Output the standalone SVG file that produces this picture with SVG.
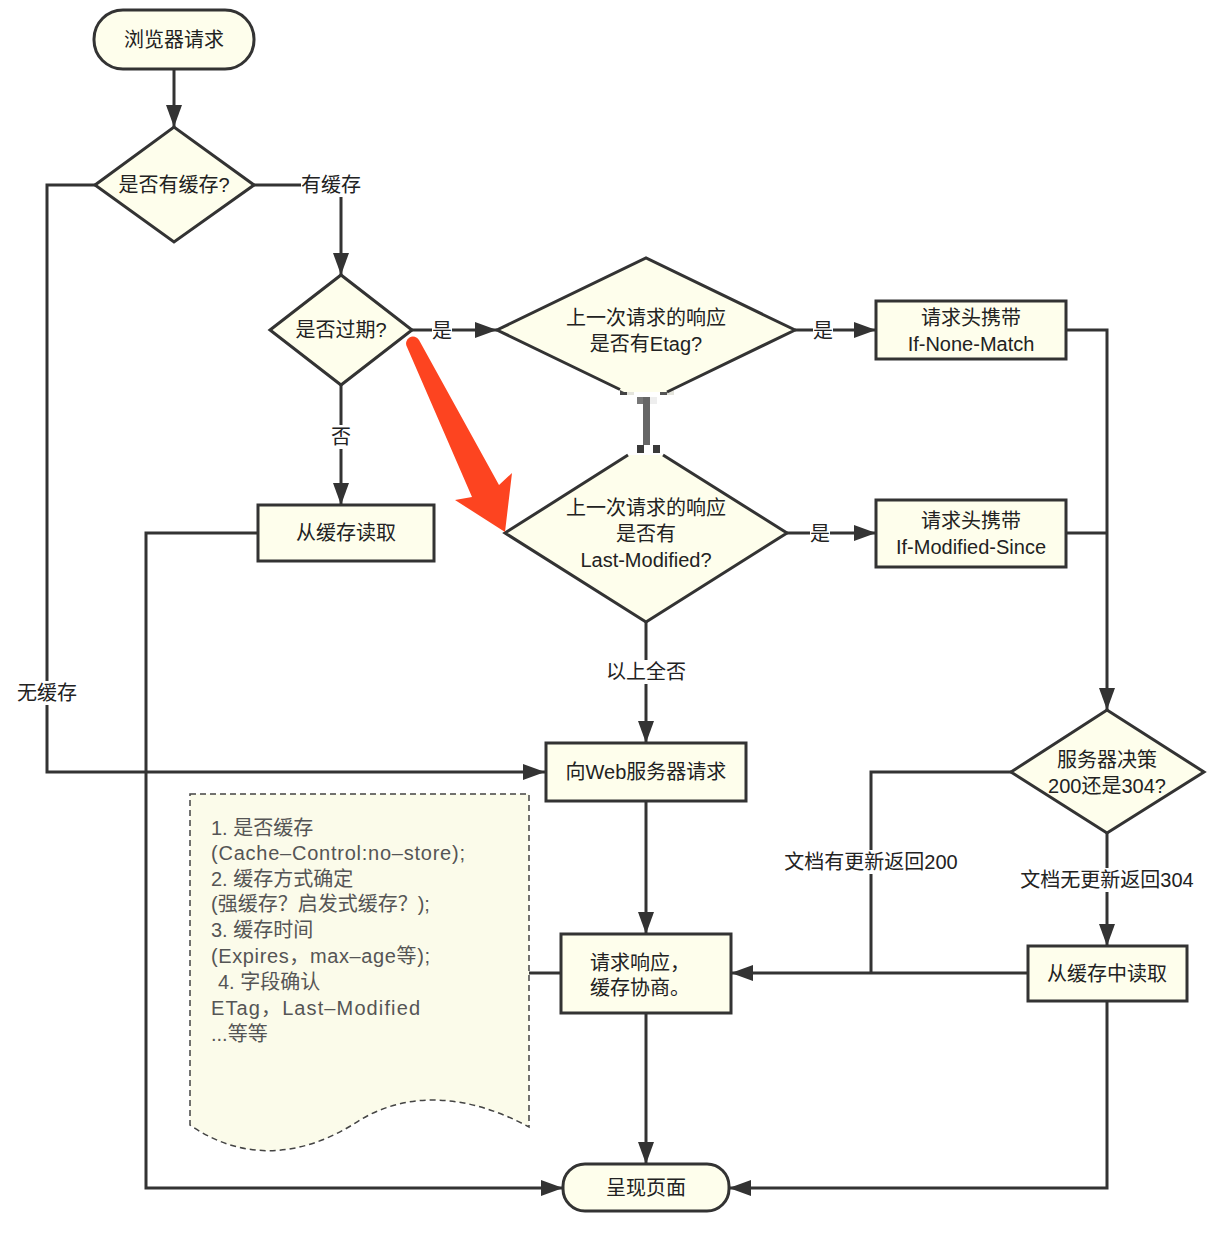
<svg xmlns="http://www.w3.org/2000/svg" width="1230" height="1244" viewBox="0 0 1230 1244">
  <style>
    .node { fill: #fefeec; stroke: #333; stroke-width: 3; }
    .edge { fill: none; stroke: #333; stroke-width: 3; }
    .txt { font-family: "Liberation Sans", "Noto Sans CJK SC", sans-serif; font-size: 20px; fill: #222; text-anchor: middle; }
    .lbl { font-family: "Liberation Sans", "Noto Sans CJK SC", sans-serif; font-size: 20px; fill: #222; text-anchor: middle; }
    .lblbg { fill: #fff; }
    .note { font-family: "Liberation Sans", "Noto Sans CJK SC", sans-serif; font-size: 20px; fill: #555; }
  </style>
  <defs>
    <marker id="arrow" markerUnits="userSpaceOnUse" markerWidth="22" markerHeight="16" viewBox="0 0 22 16" refX="22" refY="8" orient="auto">
      <path d="M0,0 L22,8 L0,16 z" fill="#333"/>
    </marker>
  </defs>
  <rect width="1230" height="1244" fill="#fff"/>

  <!-- connectors -->
  <g id="connectors">
    <path class="edge" d="M174,69 V127" marker-end="url(#arrow)"/>
    <path class="edge" d="M254,185 H341 V275" marker-end="url(#arrow)"/>
    <path class="edge" d="M95,185 H47 V772 H545" marker-end="url(#arrow)"/>
    <path class="edge" d="M412,330 H497" marker-end="url(#arrow)"/>
    <path class="edge" d="M341,385 V505" marker-end="url(#arrow)"/>
    <path class="edge" d="M258,533 H146 V1188 H563" marker-end="url(#arrow)"/>
    <path class="edge" d="M795,330 H876" marker-end="url(#arrow)"/>
    <path class="edge" d="M1066,330 H1107 V710" marker-end="url(#arrow)"/>
    <path class="edge" d="M787,533 H876" marker-end="url(#arrow)"/>
    <path class="edge" d="M1066,533 H1107"/>
    <path class="edge" d="M646,622 V743" marker-end="url(#arrow)"/>
    <path class="edge" d="M646,801 V934" marker-end="url(#arrow)"/>
    <path class="edge" d="M646,1013 V1164" marker-end="url(#arrow)"/>
    <path class="edge" d="M1011,772 H871 V973"/>
    <path class="edge" d="M1107,833 V946" marker-end="url(#arrow)"/>
    <path class="edge" d="M1028,973 H731" marker-end="url(#arrow)"/>
    <path class="edge" d="M1107,1001 V1188 H729" marker-end="url(#arrow)"/>
    <path class="edge" d="M561,973 H529"/>

    <!-- link between the two header checks -->
    <g id="etag-link">
      <rect x="620" y="389" width="7" height="6" fill="#444"/>
      <rect x="627" y="389" width="7" height="6" fill="#e4e4dc"/>
      <rect x="660" y="389" width="7" height="6" fill="#555"/>
      <rect x="667" y="389" width="7" height="6" fill="#e4e4dc"/>
      <rect x="637" y="397" width="7" height="7" fill="#777"/>
      <rect x="650" y="397" width="7" height="7" fill="#eee"/>
      <rect x="643" y="397" width="7" height="48" fill="#666"/>
      <rect x="637" y="445" width="7" height="8" fill="#3a3a3a"/>
      <rect x="653" y="445" width="7" height="8" fill="#3a3a3a"/>
    </g>

    <!-- connector labels -->
    <rect class="lblbg" x="301" y="173" width="60" height="24"/>
    <text class="lbl" x="331" y="192">有缓存</text>
    <rect class="lblbg" x="17" y="681" width="60" height="24"/>
    <text class="lbl" x="47" y="700">无缓存</text>
    <rect class="lblbg" x="432" y="319" width="20" height="24"/>
    <text class="lbl" x="442" y="338">是</text>
    <rect class="lblbg" x="331" y="425" width="20" height="24"/>
    <text class="lbl" x="341" y="444">否</text>
    <rect class="lblbg" x="813" y="319" width="20" height="24"/>
    <text class="lbl" x="823" y="338">是</text>
    <rect class="lblbg" x="810" y="522" width="20" height="24"/>
    <text class="lbl" x="820" y="541">是</text>
    <rect class="lblbg" x="606" y="660" width="80" height="24"/>
    <text class="lbl" x="646" y="679">以上全否</text>
    <rect class="lblbg" x="782" y="850" width="178" height="24"/>
    <text class="lbl" x="871" y="869">文档有更新返回200</text>
    <rect class="lblbg" x="1018" y="868" width="178" height="24"/>
    <text class="lbl" x="1107" y="887">文档无更新返回304</text>
  </g>

  <!-- nodes -->
  <g id="start">
    <rect class="node" x="94" y="10" width="160" height="59" rx="29"/>
    <text class="txt" x="174" y="47">浏览器请求</text>
  </g>

  <g id="has-cache">
    <polygon class="node" points="95,185 174,127 254,185 174,242"/>
    <text class="txt" x="174" y="192">是否有缓存?</text>
  </g>

  <g id="expired">
    <polygon class="node" points="270,330 341,275 412,330 341,385"/>
    <text class="txt" x="341" y="337">是否过期?</text>
  </g>

  <g id="read-cache">
    <rect class="node" x="258" y="505" width="176" height="56"/>
    <text class="txt" x="346" y="540">从缓存读取</text>
  </g>

  <g id="has-etag">
    <polygon points="497,330 646,258 795,330 668,392 624,392" fill="#fefeec"/>
    <path class="edge" d="M620,389.5 L497,330 L646,258 L795,330 L667,392"/>
    <text class="txt" x="646" y="325">上一次请求的响应</text>
    <text class="txt" x="646" y="351">是否有Etag?</text>
  </g>

  <g id="has-last-modified">
    <polygon points="628,455 663,455 787,533 646,622 505,533" fill="#fefeec"/>
    <path class="edge" d="M628,455 L505,533 L646,622 L787,533 L663,455"/>
    <text class="txt" x="646" y="515">上一次请求的响应</text>
    <text class="txt" x="646" y="541">是否有</text>
    <text class="txt" x="646" y="567">Last-Modified?</text>
  </g>

  <g id="if-none-match">
    <rect class="node" x="876" y="301" width="190" height="58"/>
    <text class="txt" x="971" y="325">请求头携带</text>
    <text class="txt" x="971" y="351">If-None-Match</text>
  </g>

  <g id="if-modified-since">
    <rect class="node" x="876" y="500" width="190" height="67"/>
    <text class="txt" x="971" y="528">请求头携带</text>
    <text class="txt" x="971" y="554">If-Modified-Since</text>
  </g>

  <g id="server-request">
    <rect class="node" x="546" y="743" width="200" height="58"/>
    <text class="txt" x="646" y="779">向Web服务器请求</text>
  </g>

  <g id="server-decision">
    <polygon class="node" points="1011,772 1107,710 1204,772 1107,833"/>
    <text class="txt" x="1107" y="767">服务器决策</text>
    <text class="txt" x="1107" y="793">200还是304?</text>
  </g>

  <g id="response">
    <rect class="node" x="561" y="934" width="170" height="79"/>
    <text class="txt" x="640" y="970">请求响应，</text>
    <text class="txt" x="640" y="995">缓存协商。</text>
  </g>

  <g id="read-cache-304">
    <rect class="node" x="1028" y="946" width="159" height="55"/>
    <text class="txt" x="1107" y="981">从缓存中读取</text>
  </g>

  <g id="render">
    <rect class="node" x="563" y="1164" width="166" height="47" rx="22"/>
    <text class="txt" x="646" y="1195">呈现页面</text>
  </g>

  <!-- annotation note -->
  <g id="note">
    <path d="M190,794 H529 V1127 C470,1095 410,1090 360,1120 C300,1160 240,1160 190,1125 Z" fill="#fbfbea" stroke="#444" stroke-width="1.5" stroke-dasharray="6,4"/>
    <text class="note" x="211" y="835">1. 是否缓存</text>
    <text class="note" x="211" y="860" textLength="254" lengthAdjust="spacing">(Cache–Control:no–store);</text>
    <text class="note" x="211" y="886">2. 缓存方式确定</text>
    <text class="note" x="211" y="911">(强缓存？启发式缓存？);</text>
    <text class="note" x="211" y="937">3. 缓存时间</text>
    <text class="note" x="211" y="963" textLength="219" lengthAdjust="spacing">(Expires，max–age等);</text>
    <text class="note" x="218" y="989">4. 字段确认</text>
    <text class="note" x="211" y="1015" textLength="209" lengthAdjust="spacing">ETag，Last–Modified</text>
    <text class="note" x="211" y="1041">...等等</text>
  </g>

  <!-- highlight arrow -->
  <path id="highlight" d="M407,347 L472,497 L455,500 L505,532 L512,473 L499,485 L419,340 A6.5,6.5 0 0 0 407,347 Z" fill="#fd4420"/>
</svg>
